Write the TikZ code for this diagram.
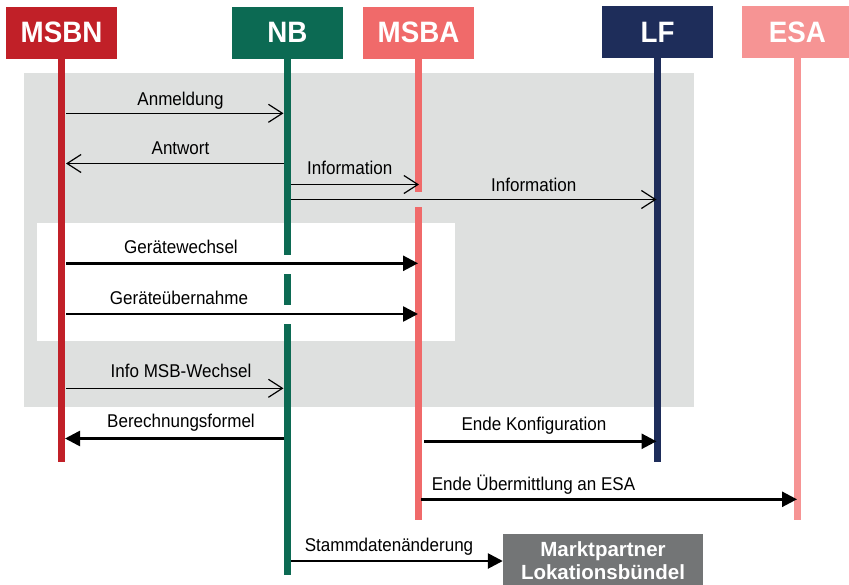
\documentclass[tikz,border=0pt]{standalone}
\usepackage{fontspec}
\setmainfont{Liberation Sans}
\newfontfamily\lblfont[FakeStretch=0.92]{Liberation Sans}
\newfontfamily\hdrfont[FakeStretch=0.94]{Liberation Sans}
\usetikzlibrary{arrows.meta}
\definecolor{msbncol}{RGB}{193,32,40}
\definecolor{nbcol}{RGB}{12,106,83}
\definecolor{msbacol}{RGB}{240,106,106}
\definecolor{lfcol}{RGB}{30,45,90}
\definecolor{esacol}{RGB}{246,148,148}
\definecolor{bggray}{RGB}{222,224,223}
\definecolor{boxgray}{RGB}{115,117,118}
\begin{document}
\begin{tikzpicture}[x=1pt,y=-1pt,
  hdr/.style={rectangle, minimum width=111pt, minimum height=52pt, inner sep=0pt, text=white,
    font=\hdrfont\bfseries\fontsize{29.5}{30}\selectfont},
  life/.style={line width=7.5pt},
  lbl/.style={anchor=base, inner sep=0pt, font=\lblfont\fontsize{18.5}{20}\selectfont},
  thinmsg/.style={line width=1.2pt, -{Straight Barb[length=14pt,width=18pt,line width=1.2pt]}},
  thickmsg/.style={line width=2.6pt, -{Triangle[length=15pt,width=15pt]}},
  ]
\useasboundingbox (0,0) rectangle (849,584);
\clip (0,0) rectangle (849,584);
% backgrounds
\fill[bggray] (24,73) rectangle (694,407);
\fill[white] (37,223) rectangle (455,341);
% headers
\node[hdr, fill=msbncol] (msbn) at (61.5,32.5) {MSBN};
\node[hdr, fill=nbcol] (nb) at (287.5,32.5) {NB};
\node[hdr, fill=msbacol] (msba) at (418.5,32.5) {MSBA};
\node[hdr, fill=lfcol] (lf) at (657.5,32) {LF};
\node[hdr, fill=esacol] (esa) at (797.5,32) {ESA};
% lifeline ends
\coordinate (msbnend) at (61.5,462);
\coordinate (lfend) at (657.5,462);
\coordinate (esaend) at (797.5,520);
\coordinate (msbaend) at (418.5,520);
\coordinate (nbend) at (287.5,575);
% lifelines
\draw[life, msbncol] (msbn.south) -- (msbnend);
\draw[life, nbcol] (nb.south) -- (287.5,255) (287.5,274) -- (287.5,305) (287.5,324) -- (nbend);
\draw[life, msbacol] (msba.south) -- (418.5,192) (418.5,207) -- (msbaend);
\draw[life, lfcol] (lf.south) -- (lfend);
\draw[life, esacol] (esa.south) -- (esaend);
% box
\node[rectangle, fill=boxgray, text=white, anchor=north, minimum width=200pt, inner xsep=0pt, inner ysep=7.7pt,
  align=center, font=\bfseries\fontsize{20.5}{22.5}\selectfont] (mp) at (603,534) {Marktpartner\\Lokationsbündel};
% message endpoints
\coordinate (m1a) at (66,113.3); \coordinate (m1b) at (283.5,113.3);
\coordinate (m2a) at (283.5,163.5); \coordinate (m2b) at (66,163.5);
\coordinate (m3a) at (291,184.5); \coordinate (m3b) at (419,184.5);
\coordinate (m4a) at (291,199.5); \coordinate (m4b) at (656.5,199.5);
\coordinate (m5a) at (66,263.3); \coordinate (m5b) at (418,263.3);
\coordinate (m6a) at (66,314); \coordinate (m6b) at (418,314);
\coordinate (m7a) at (66,388.3); \coordinate (m7b) at (283.5,388.3);
\coordinate (m8a) at (283.5,438.5); \coordinate (m8b) at (65,438.5);
\coordinate (m9a) at (424,441.3); \coordinate (m9b) at (656.5,441.3);
\coordinate (m10a) at (421,499.3); \coordinate (m10b) at (797,499.3);
\coordinate (m11a) at (291,561);
% messages
\draw[thinmsg] (m1a) -- (m1b);
\draw[thinmsg] (m2a) -- (m2b);
\draw[thinmsg] (m3a) -- (m3b);
\draw[thinmsg] (m4a) -- (m4b);
\draw[thickmsg] (m5a) -- (m5b);
\draw[thickmsg] (m6a) -- (m6b);
\draw[thinmsg] (m7a) -- (m7b);
\draw[thickmsg] (m8a) -- (m8b);
\draw[thickmsg] (m9a) -- (m9b);
\draw[thickmsg] (m10a) -- (m10b);
\draw[thickmsg] (m11a) -- (m11a -| mp.west);
% labels
\node[lbl] (l1) at (180.5,105) {Anmeldung};
\node[lbl] (l2) at (180.5,154) {Antwort};
\node[lbl] (l3) at (349.7,174.3) {Information};
\node[lbl] (l4) at (533.7,191.7) {Information};
\node[lbl] (l5) at (181,253.3) {Gerätewechsel};
\node[lbl] (l6) at (179,304) {Geräteübernahme};
\node[lbl] (l7) at (181,377.3) {Info MSB-Wechsel};
\node[lbl] (l8) at (181,427.7) {Berechnungsformel};
\node[lbl] (l9) at (534,430.7) {Ende Konfiguration};
\node[lbl] (l10) at (533.5,490.7) {Ende Übermittlung an ESA};
\node[lbl] (l11) at (389,551.7) {Stammdatenänderung};
\end{tikzpicture}
\end{document}
